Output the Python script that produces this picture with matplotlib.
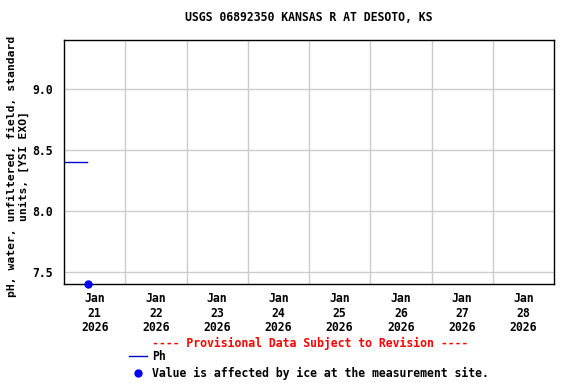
import numpy as np
import matplotlib.pyplot as plt
import matplotlib.dates as mdates
from datetime import datetime

plt.rcParams['font.family'] = ['DejaVu Sans Mono']
plt.rcParams['font.weight'] = 'bold'

# Données
t_ph = [datetime(2026, 1, 21, 0, 0), datetime(2026, 1, 21, 4, 0), datetime(2026, 1, 21, 9, 0)]
ph = [8.40, 8.40, 8.40]
t_ice = [datetime(2026, 1, 21, 9, 15)]
jours = [21, 22, 23, 24, 25, 26, 27, 28]

fig = plt.figure(figsize=(5.76, 3.84), dpi=100)
ax = fig.add_axes([64 / 576, 1 - 284 / 384, 490 / 576, 244 / 384])

ax.plot(t_ph, ph, color='#0000cc', lw=1)
ax.plot(t_ice, [7.40], 'o', color='#0000ff', ms=5, clip_on=False, zorder=5)

ax.set_xlim(datetime(2026, 1, 21), datetime(2026, 1, 29))
ax.set_ylim(7.40, 9.40)

midis = [datetime(2026, 1, d, 12) for d in jours]
ax.set_xticks(mdates.date2num(midis))
ax.set_xticklabels([f'Jan\n{d}\n2026' for d in jours], fontsize=8.3, linespacing=1.15)
ax.set_xticks(mdates.date2num([datetime(2026, 1, d) for d in jours[1:]]), minor=True)
ax.set_yticks([7.5, 8.0, 8.5, 9.0])
ax.set_yticklabels(['7.5', '8.0', '8.5', '9.0'], fontsize=8.3)
ax.tick_params(axis='x', which='both', length=0, pad=6)
ax.tick_params(axis='y', length=0, pad=8)

ax.grid(True, which='minor', axis='x', color='#cccccc', lw=1)
ax.grid(True, which='major', axis='y', color='#cccccc', lw=1)
for s in ax.spines.values():
    s.set_linewidth(1)

ax.set_title('USGS 06892350 KANSAS R AT DESOTO, KS', fontsize=8.3, fontweight='bold', pad=14)
fig.text(12 / 576, 1 - 166 / 384, 'pH, water, unfiltered, field, standard',
         rotation=90, fontsize=8.2, ha='center', va='center')
fig.text(24 / 576, 1 - 166 / 384, 'units, [YSI EXO]',
         rotation=90, fontsize=8.2, ha='center', va='center')

fig.text(310 / 576, 1 - 343 / 384, '---- Provisional Data Subject to Revision ----',
         color='red', fontsize=8.3, ha='center', va='center')
fig.add_artist(plt.Line2D([129 / 576, 147 / 576], [1 - 356 / 384] * 2, color='#0000cc', lw=1))
fig.text(152 / 576, 1 - 356 / 384, 'Ph', fontsize=8.3, va='center')
fig.add_artist(plt.Line2D([138 / 576], [1 - 373 / 384], marker='o', color='#0000ff', ms=5))
fig.text(152 / 576, 1 - 373 / 384, 'Value is affected by ice at the measurement site.',
         fontsize=8.3, va='center')

fig.savefig('out.png', dpi=100)
